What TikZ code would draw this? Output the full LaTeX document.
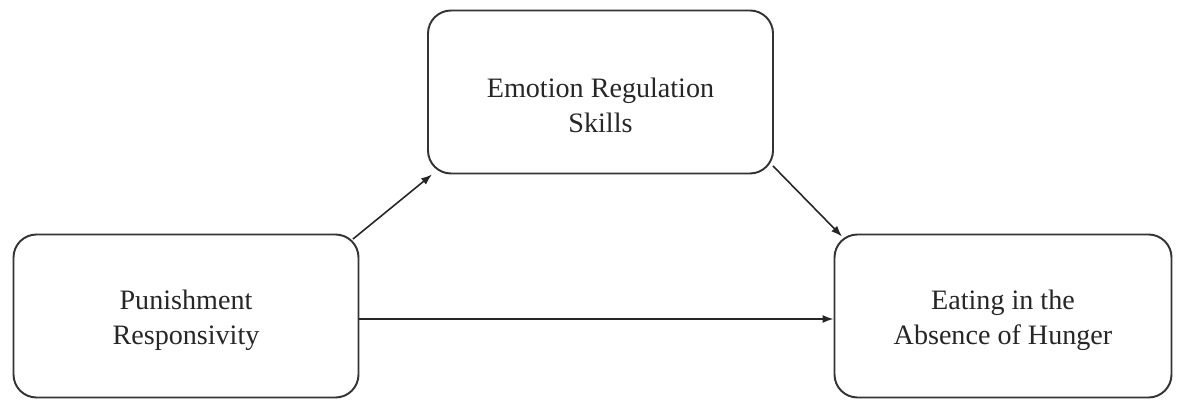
\documentclass[tikz,border=0pt]{standalone}
\usepackage{fontspec}
\setmainfont{Liberation Serif}
\usepackage{tikz}
\usetikzlibrary{arrows.meta,positioning,calc}
\usepackage{xcolor}
\newcommand{\dropby}[1]{\rule{0pt}{#1}}

\begin{document}
\begin{tikzpicture}[
  box/.style={draw=black!80, line width=1.1pt, rounded corners=0.46cm,
              minimum width=6.9cm, minimum height=3.26cm, align=center,
              text=black!85, font=\fontsize{16}{20}\selectfont},
  arr/.style={draw=black!85, line width=0.9pt,
              -{Latex[length=2.2mm,width=1.6mm]}}]
  \useasboundingbox (0,0) rectangle (23.56,8);
  % 独立変数・媒介変数・従属変数
  \node[box] (pr)  at (3.72, 1.68) {\dropby{0.55cm}Punishment\\Responsivity};
  \node[box] (ers) at (12.01,6.16) {\dropby{0.91cm}Emotion Regulation\\Skills};
  \node[box, minimum width=6.74cm] (eah) at (20.06,1.68)
      {\dropby{0.55cm}Eating in the\\Absence of Hunger};
  % 矢印
  \draw[arr] ($(pr.north east)+(-0.13,-0.11)$) -- ($(ers.south west)+(0.1,0)$);
  \draw[arr] ($(ers.south east)+(-0.02,0.17)$) -- ($(eah.north west)+(0.17,-0.06)$);
  \draw[arr] ([yshift=-0.06cm]pr.east) -- ([yshift=-0.06cm]eah.west);
\end{tikzpicture}
\end{document}
